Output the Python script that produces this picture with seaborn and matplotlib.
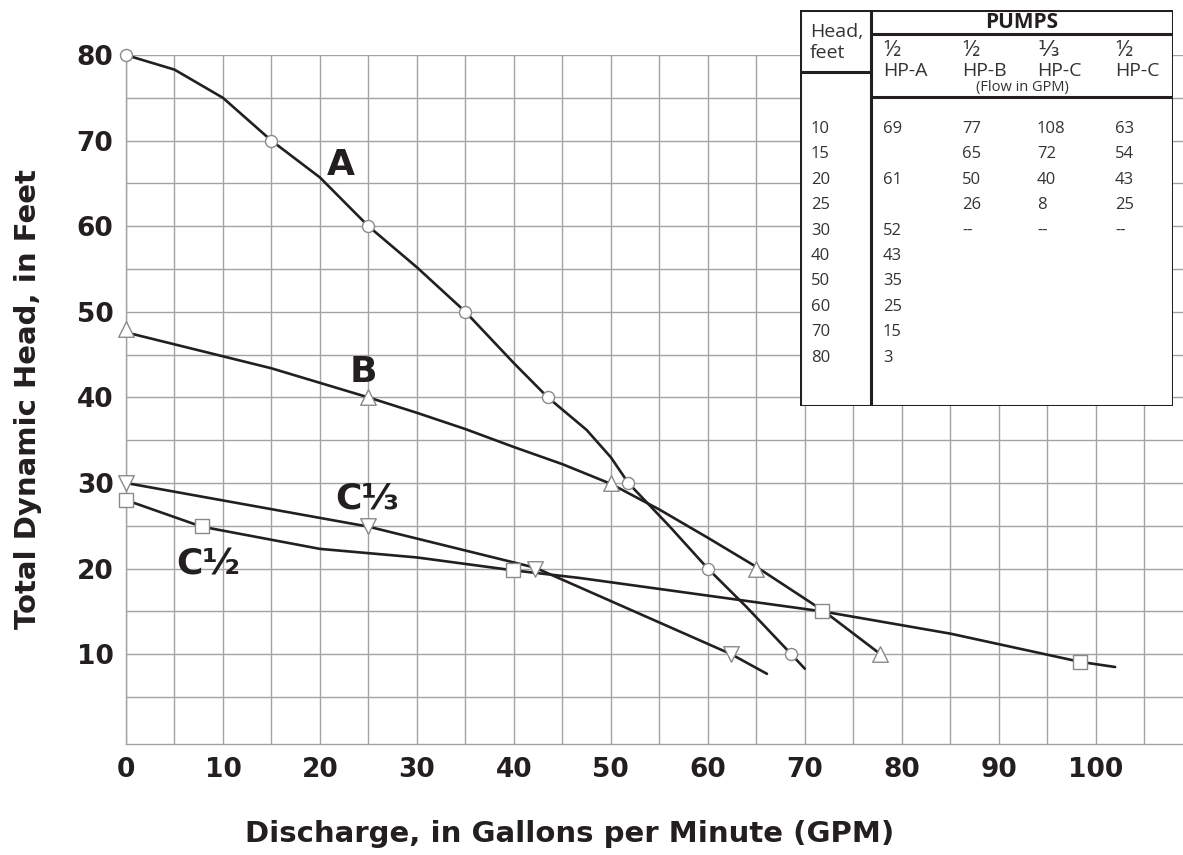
import numpy as np
import pandas as pd
import matplotlib
matplotlib.use('Agg')
import matplotlib.pyplot as plt
import seaborn as sns

# pump curves (line path, then marker points)
a_x = [0, 5, 10, 15, 20, 25, 30, 35, 40, 43.5, 47.5, 50, 51.8, 56, 60, 64, 68.6, 70]
a_y = [80, 78.3, 75, 70, 65.7, 60, 55.2, 50, 44, 40, 36.2, 33, 30, 25, 20, 15.5, 10, 8.3]
a_mx = [0, 15, 25, 35, 43.5, 51.8, 60, 68.6]
a_my = [80, 70, 60, 50, 40, 30, 20, 10]

b_x = [0, 5, 10, 15, 20, 25, 30, 35, 40, 45, 50, 55, 60, 65, 72, 77.8]
b_y = [47.6, 46.2, 44.8, 43.4, 41.7, 40, 38.2, 36.3, 34.2, 32.2, 29.9, 26.9, 23.6, 20.2, 15, 10]
b_mx = [0, 25, 50, 65, 77.8]
b_my = [48, 40, 30, 20, 10]

c13_x = [0, 25, 42.2, 62.4, 66.1]
c13_y = [30, 24.9, 20.1, 10, 7.7]
c13_mx = [0, 25, 42.2, 62.4]
c13_my = [30, 25, 20, 10]

c12_x = [0, 7.8, 20, 30, 39.9, 46.8, 71.8, 85, 98.4, 102]
c12_y = [28, 24.9, 22.3, 21.3, 19.8, 18.9, 15, 12.4, 9.1, 8.5]
c12_mx = [0, 7.8, 39.9, 71.8, 98.4]
c12_my = [28, 25, 19.8, 15, 9.1]

# table in the corner
head_ft = ['10', '15', '20', '25', '30', '40', '50', '60', '70', '80']
flow_a = ['69', '', '61', '', '52', '43', '35', '25', '15', '3']
flow_b = ['77', '65', '50', '26', '--', '', '', '', '', '']
flow_c13 = ['108', '72', '40', '8', '--', '', '', '', '', '']
flow_c12 = ['63', '54', '43', '25', '--', '', '', '', '', '']
pump_frac = ['½', '½', '⅓', '½']
pump_name = ['HP-A', 'HP-B', 'HP-C', 'HP-C']

sns.set_style('white')
plt.rcParams['font.family'] = ['Open Sans', 'DejaVu Sans']

INK = '#231f20'
GRID = '#a3a3a3'
BOLD = ['DejaVu Sans']

fig = plt.figure(figsize=(11.83, 8.55), dpi=100)
ax = fig.add_axes([0.1065, 0.1298, 0.8935, 0.8058])

# curves
for xs, ys in [(a_x, a_y), (b_x, b_y), (c13_x, c13_y), (c12_x, c12_y)]:
    sns.lineplot(x=xs, y=ys, sort=False, estimator=None, color=INK, lw=1.9, ax=ax, zorder=3)

marker_kw = dict(color='white', edgecolor='#8a8a8a', linewidth=1.0, zorder=4, ax=ax,
                 legend=False, clip_on=False)
sns.scatterplot(x=a_mx, y=a_my, marker='o', s=75, **marker_kw)
sns.scatterplot(x=b_mx, y=b_my, marker='^', s=125, **marker_kw)
sns.scatterplot(x=c13_mx, y=c13_my, marker='v', s=125, **marker_kw)
sns.scatterplot(x=c12_mx, y=c12_my, marker='s', s=95, **marker_kw)

# curve names
lab_kw = dict(fontsize=26, fontweight='bold', family=BOLD, color=INK, ha='center', va='center', zorder=5)
ax.text(22.2, 67.2, 'A', **lab_kw)
ax.text(24.5, 43.0, 'B', **lab_kw)
ax.text(24.9, 28.2, 'C⅓', **lab_kw)
ax.text(8.5, 20.5, 'C½', **lab_kw)

ax.set_xlim(0, 109)
ax.set_ylim(-0.5, 80)
ax.set_xticks(np.arange(0, 101, 10))
ax.set_yticks(np.arange(10, 81, 10))
ax.set_xticks(np.arange(0, 110, 5), minor=True)
ax.set_yticks(np.arange(5, 81, 5), minor=True)
ax.grid(which='both', color=GRID, lw=1.0)
ax.set_axisbelow(True)
ax.tick_params(which='both', length=0)
ax.tick_params(axis='x', pad=9, labelsize=19, labelcolor=INK)
ax.tick_params(axis='y', pad=9, labelsize=19, labelcolor=INK)
for t in ax.get_xticklabels() + ax.get_yticklabels():
    t.set_fontweight('bold')
    t.set_family(BOLD)
for side in ['top', 'right']:
    ax.spines[side].set_visible(False)
for side in ['left', 'bottom']:
    ax.spines[side].set_color(GRID)
    ax.spines[side].set_linewidth(1.0)

ax.set_xlabel('Discharge, in Gallons per Minute (GPM)', fontsize=21, fontweight='bold',
              family=BOLD, color=INK)
ax.set_ylabel('Total Dynamic Head, in Feet', fontsize=21, fontweight='bold',
              family=BOLD, color=INK)
ax.xaxis.label.set_va('center')
ax.yaxis.label.set_va('center')
ax.xaxis.set_label_coords(0.42, -0.13)
ax.yaxis.set_label_coords(-0.093, 0.5)

# table drawn in its own axes, coordinates in pixels of the image
tab = fig.add_axes([800 / 1183, 1 - 406 / 855, 373 / 1183, 396 / 855])
tab.set_xlim(800, 1173)
tab.set_ylim(406, 10)
tab.axis('off')
tab.add_patch(plt.Rectangle((800, 10), 373, 396, facecolor='white', edgecolor=INK, lw=2.2, zorder=1))
tab.plot([871, 871], [10, 406], color=INK, lw=2.2)
tab.plot([800, 871], [72, 72], color=INK, lw=2.2)
tab.plot([871, 1173], [34, 34], color=INK, lw=2.2)
tab.plot([871, 1173], [97, 97], color=INK, lw=2.2)

TXT = '#333333'
tab.text(810, 32, 'Head,', fontsize=14, color=TXT, va='center')
tab.text(810, 53, 'feet', fontsize=14, color=TXT, va='center')
tab.text(1022, 22, 'PUMPS', fontsize=15, fontweight='bold', color=INK, ha='center', va='center')
col_x = [883, 962, 1037, 1115]
for cx, fr, nm in zip(col_x, pump_frac, pump_name):
    tab.text(cx, 50, fr, fontsize=16, color=TXT, va='center')
    tab.text(cx, 71, nm, fontsize=14, color=TXT, va='center')
tab.text(1022, 87, '(Flow in GPM)', fontsize=10.5, color=TXT, ha='center', va='center')

for i, h in enumerate(head_ft):
    ry = 129 + 25.4 * i
    tab.text(811, ry, h, fontsize=12, color=TXT, va='center')
    for cx, col in zip(col_x, [flow_a, flow_b, flow_c13, flow_c12]):
        if col[i]:
            tab.text(cx, ry, col[i], fontsize=12, color=TXT, va='center')

fig.savefig('out.png', dpi=100)
